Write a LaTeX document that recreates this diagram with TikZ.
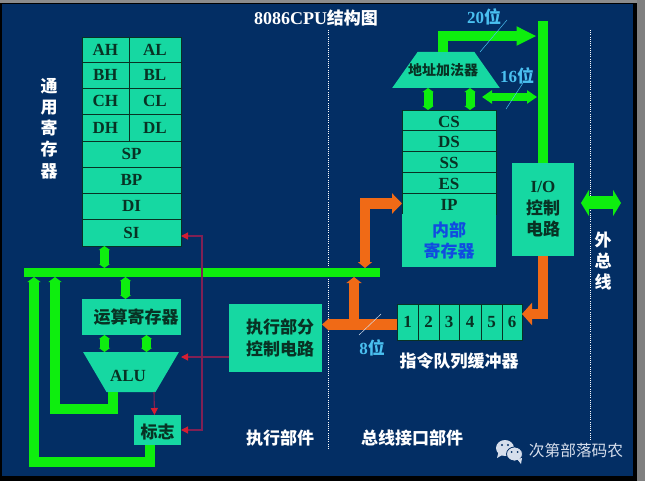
\documentclass[tikz,border=0pt]{standalone}
\usepackage{fontspec}
\usepackage{tikz}
\usetikzlibrary{arrows.meta,shapes.geometric}
\setmainfont{Liberation Serif}
\newfontfamily\cjk{Noto Sans CJK SC}
\definecolor{panelblue}{RGB}{3,46,100}
\definecolor{boxgreen}{RGB}{22,216,162}
\definecolor{busgreen}{RGB}{14,238,14}
\definecolor{busorange}{RGB}{240,106,22}
\definecolor{labelcyan}{RGB}{74,192,240}
\definecolor{labeldark}{RGB}{8,50,36}
\definecolor{regblue}{RGB}{16,76,224}
\definecolor{wirepurple}{RGB}{128,32,84}
\definecolor{wirered}{RGB}{214,30,50}
\definecolor{markgrey}{RGB}{214,222,236}
\begin{document}
\begin{tikzpicture}[x=1pt,y=-1pt,
	regbox/.style={draw=labeldark,line width=.6pt,fill=boxgreen,inner sep=0pt,outer sep=0pt,text=labeldark,font=\fontsize{17}{20}\selectfont\bfseries},
	zhbox/.style={regbox,draw=none,font=\fontsize{17}{21.5}\selectfont\cjk\bfseries,align=center},
	hood/.style={trapezium,draw=none,fill=boxgreen,inner sep=10pt,outer sep=0pt,trapezium stretches=true},
	hoodtext/.style={inner sep=0pt,text=labeldark},
	whitetext/.style={inner sep=0pt,text=white,align=center,font=\fontsize{17}{21.2}\selectfont\cjk\bfseries},
	widthtext/.style={inner sep=0pt,text=labelcyan,font=\fontsize{17}{20}\selectfont\bfseries},
	gbar/.style={draw=busgreen,line width=10pt},
	gtwin/.style={gbar,line width=9pt,{Triangle[length=4pt,width=11pt]}-{Triangle[length=4pt,width=11pt]}},
	gtip/.style={gbar,-{Triangle[length=5pt,width=13pt]}},
	obar/.style={draw=busorange,line width=10.5pt},
	otip/.style={obar,-{Triangle[length=6pt,width=15pt]}},
	wire/.style={draw=wirepurple,line width=1.1pt},
	wiretip/.style={wire,-{Triangle[length=7pt,width=7pt,color=wirered]}},
	slash/.style={draw=labelcyan,line width=.5pt},
	divider/.style={draw=white,line width=.6pt,dash pattern=on .8pt off 1.4pt}]
\useasboundingbox (0,0) rectangle (645,481);
\fill[black] (0,0) rectangle (645,481);
\fill[black!45] (0,0) rectangle (645,3.5);
\fill[black!50] (637,0) rectangle (645,481);
\fill[panelblue] (2,4) rectangle (633,476);

\draw[divider] (328.5,30) -- (328.5,450);
\draw[divider] (590.7,30) -- (590.7,440);

\foreach \nm/\txt/\cx/\cy/\w/\h in {
	ah/AH/105.4/49.5/46.8/25, al/AL/154.9/49.5/52.2/25,
	bh/BH/105.4/75/46.8/26, bl/BL/154.9/75/52.2/26,
	ch/CH/105.4/101.2/46.8/26.5, cl/CL/154.9/101.2/52.2/26.5,
	dh/DH/105.4/127.7/46.8/26.5, dl/DL/154.9/127.7/52.2/26.5,
	sp/SP/131.5/154/99/26, bp/BP/131.5/180/99/26,
	di/DI/131.5/206/99/26, si/SI/131.5/232.5/99/27,
	qa/1/407.5/322/21/36, qb/2/428.5/322/21/36,
	qc/3/449/322/20/36, qd/4/470/322/22/36,
	qe/5/491.5/322/21/36, qf/6/512/322/20/36
} \node[regbox,minimum width=\w,minimum height=\h] (\nm) at (\cx,\cy) {\txt};
\foreach \nm/\txt/\cy/\h in {cs/CS/120/20, ds/DS/140.5/21, ss/SS/161.5/21, es/ES/182.5/21, ip/IP/203.5/21}
	\node[regbox,minimum width=94,minimum height=\h,text height=15pt] (\nm) at (449,\cy) {\txt};

\node[zhbox,minimum width=94pt,minimum height=53pt,text=regblue] (inner) at (449,240.5) {内部\\寄存器};
\node[zhbox,minimum width=62pt,minimum height=93pt,font=\fontsize{17}{21.5}\selectfont\bfseries] (io) at (543,209.5) {I/O\\{\cjk 控制}\\{\cjk 电路}};
\node[zhbox,minimum width=99pt,minimum height=36pt] (opreg) at (131.5,317) {\hspace*{9pt}运算寄存器};
\node[zhbox,minimum width=93pt,minimum height=68pt] (ctrl) at (275.5,338) {\hspace*{9pt}执行部分\\\hspace*{9pt}控制电路};
\node[zhbox,minimum width=47pt,minimum height=30pt,text height=18pt] (flag) at (157.5,430) {标志};
\node[hood,minimum width=96pt,minimum height=40pt,trapezium left angle=64.4,trapezium right angle=64.4,shape border rotate=180] (alu) at (131,372) {};
\node[hoodtext,font=\fontsize{17}{20}\selectfont\bfseries] (alutext) at (128,376) {ALU};
\node[hood,minimum width=108pt,minimum height=36pt,trapezium left angle=65.9,trapezium right angle=65.9] (adder) at (446,70) {};
\node[hoodtext,font=\fontsize{14}{16}\selectfont\cjk\bfseries] (addertext) at (443,70) {地址加法器};

\node[draw=none,fill=busgreen,minimum width=356pt,minimum height=9pt,inner sep=0pt,outer sep=0pt] (bus) at (202,272.5) {};

\draw[gbar] (io.north) -- ++(0,-142) coordinate[pos=.894] (addrend) coordinate[pos=.465] (dataend);
\draw[gtwin] ([xshift=-1pt]si.south -| dh.south) -- ([xshift=-1pt]bus.north -| dh.south);
\draw[gtwin] ([xshift=-6pt]opreg.north) -- ([xshift=-6pt]opreg.north |- bus.south);
\draw[gtwin] ([xshift=-27pt]opreg.south) -- ([xshift=-27pt]opreg.south |- alu.north);
\draw[gtwin] ([xshift=15pt]opreg.south) -- ([xshift=15pt]opreg.south |- alu.north);
\draw[gtip] ([xshift=-18pt]alu.south) -- ++(0,17) -| ([xshift=31pt]bus.south west);
\draw[gtip] ([xshift=-7.5pt]flag.south) -- ++(0,17) -| ([xshift=10pt]bus.south west);
\draw[gtwin] ([xshift=-21pt]cs.north) -- ([xshift=-21pt]cs.north |- adder.south);
\draw[gtwin] ([xshift=21pt]cs.north) -- ([xshift=21pt]cs.north |- adder.south);
\draw[gbar,-{Triangle[length=20pt,width=18pt]}] ([xshift=-3pt]adder.north) |- ([xshift=-6.5pt]addrend);
\draw[gbar,line width=8pt,{Triangle[length=10pt,width=13pt]}-{Triangle[length=10pt,width=13pt]}] ([xshift=-6pt]dataend) -- ++(-55,0);
\draw[gbar,line width=13pt,{Triangle[length=8pt,width=26pt]}-{Triangle[length=8pt,width=26pt]}] ([shift={(7,-6.5)}]io.east) -- ++(40,0);

\draw[obar,-{Triangle[length=10pt,width=22pt]}] (io.south) |- ([yshift=8pt]qf.east);
\draw[obar,-{Triangle[length=7pt,width=12pt]}] ([yshift=-2.5pt]qa.west) -- ([yshift=-2.5pt]qa.west -| ctrl.east);
\draw[otip] ([xshift=-26pt,yshift=-42pt]bus.south east) -- ([xshift=-26pt]bus.south east);
\draw[obar,{Triangle[length=6pt,width=14pt]}-{Triangle[length=10pt,width=20pt]}] ([xshift=-15pt]bus.north east) |- (ip.west);

\draw[wiretip] ([yshift=-19pt]ctrl.west) -- ([yshift=-19pt]ctrl.west -| opreg.east);
\draw[wiretip] ([xshift=23pt]alu.south) -- ([xshift=-3pt]flag.north);
\draw[wire,{Triangle[length=7pt,width=7pt,color=wirered]}-{Triangle[length=7pt,width=7pt,color=wirered]}] ([yshift=-3.5pt]si.east) -- ++(21,0) |- (flag.east);

\draw[slash] (480,52) -- (507,20);
\draw[slash] (506,109) -- (523,83);
\draw[slash,draw=markgrey] (359,335) -- (381,314);

\node[whitetext,font=\fontsize{18}{20}\selectfont\bfseries] (title) at (316,18) {8086CPU{\cjk\fontsize{17}{20}\selectfont 结构图}};
\node[whitetext] (genreg) at (49,128.5) {通\\用\\寄\\存\\器};
\node[whitetext] (extbus) at (603,261) {外\\总\\线};
\node[whitetext] (queue) at (459,361) {指令队列缓冲器};
\node[whitetext] (execunit) at (280,438) {执行部件};
\node[whitetext] (busunit) at (412,438) {总线接口部件};
\node[widthtext] (wtwenty) at (484,17) {20{\cjk 位}};
\node[widthtext] (wsixteen) at (517,76) {16{\cjk 位}};
\node[widthtext] (weight) at (372,348) {8{\cjk 位}};

\fill[markgrey] (505,448) ellipse (9 and 8);
\fill[markgrey] (497,458) -- (499,450) -- (504,454) -- cycle;
\draw[panelblue,fill=markgrey,line width=.8pt] (514.5,454) ellipse (8 and 7);
\fill[markgrey] (521,464) -- (517,459) -- (522,458) -- cycle;
\fill[panelblue] (502,445) circle (1.2) (508,445) circle (1.2) (511.5,452) circle (1) (517.5,452) circle (1);
\node[inner sep=0pt,text=markgrey,font=\fontsize{15.7}{18}\selectfont\cjk] (mark) at (576,451) {次第部落码农};
\end{tikzpicture}
\end{document}
